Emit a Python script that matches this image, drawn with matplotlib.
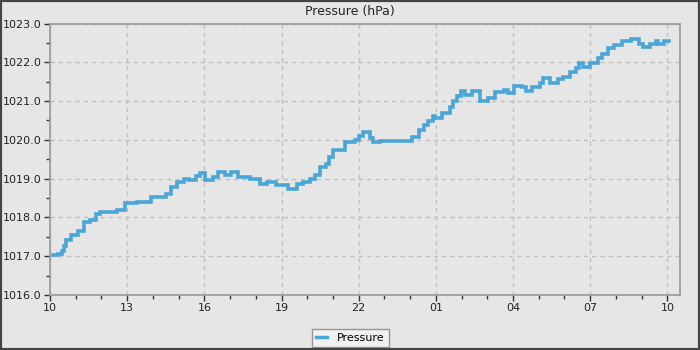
import matplotlib
matplotlib.use("Agg")
import matplotlib.pyplot as plt
from matplotlib.patches import Rectangle
from matplotlib.ticker import MultipleLocator, FixedLocator

# elapsed days since the first tick
days = [0.11, 0.33, 0.45, 0.54, 0.64, 0.80, 1.07, 1.34, 1.57, 1.77, 1.96, 2.23, 2.62, 2.93,
        3.40, 3.91, 4.49, 4.72, 4.92, 5.19, 5.42, 5.69, 5.85, 6.04, 6.32, 6.55, 6.82, 7.02,
        7.29, 7.79, 8.18, 8.45, 8.80, 9.27, 9.62, 9.85, 10.09, 10.32, 10.51, 10.71, 10.86,
        11.02, 11.48, 11.87, 12.03, 12.18, 12.42, 12.57, 12.84, 13.31, 13.66, 14.09, 14.36,
        14.52, 14.71, 14.87, 14.98, 15.25, 15.56, 15.68, 15.84, 15.96, 16.15, 16.42, 16.73,
        16.92, 17.04, 17.31, 17.66, 17.82, 18.05, 18.36, 18.52, 18.75, 19.06, 19.18, 19.45,
        19.73, 19.96, 20.23, 20.43, 20.58, 20.73, 21.01, 21.32, 21.47, 21.71, 21.94, 22.25,
        22.60, 22.91, 23.06, 23.34, 23.54, 23.65, 23.88, 24.08]
pressure = [1017.03, 1017.05, 1017.14, 1017.26, 1017.41, 1017.54, 1017.65, 1017.88, 1017.94,
            1018.10, 1018.14, 1018.14, 1018.20, 1018.36, 1018.40, 1018.53, 1018.61, 1018.79,
            1018.91, 1019.00, 1018.96, 1019.06, 1019.15, 1018.96, 1019.04, 1019.18, 1019.10,
            1019.18, 1019.04, 1018.98, 1018.87, 1018.91, 1018.84, 1018.74, 1018.87, 1018.91,
            1019.00, 1019.09, 1019.31, 1019.39, 1019.57, 1019.75, 1019.94, 1020.00, 1020.10,
            1020.21, 1020.05, 1019.94, 1019.98, 1019.98, 1019.98, 1020.07, 1020.26, 1020.39,
            1020.48, 1020.61, 1020.56, 1020.69, 1020.86, 1020.99, 1021.12, 1021.25, 1021.16,
            1021.25, 1020.99, 1021.00, 1021.08, 1021.23, 1021.29, 1021.20, 1021.38, 1021.35,
            1021.27, 1021.36, 1021.46, 1021.59, 1021.46, 1021.56, 1021.63, 1021.76, 1021.85,
            1021.97, 1021.87, 1021.97, 1022.10, 1022.21, 1022.36, 1022.45, 1022.56, 1022.59,
            1022.47, 1022.40, 1022.47, 1022.56, 1022.47, 1022.56, 1022.56]
tick_days = [0, 3, 6, 9, 12, 15, 18, 21, 24]
tick_labels = ["10", "13", "16", "19", "22", "01", "04", "07", "10"]
series_name = "Pressure"
title = "Pressure (hPa)"

bg = "#e6e6e6"
fig = plt.figure(figsize=(7, 3.5), dpi=100, facecolor=bg)
ax = fig.add_axes([50/700, 55/350, 630/700, 271.5/350])
ax.set_facecolor(bg)

line, = ax.plot(days, pressure, color="#4aa6d8", lw=2.6, drawstyle="steps-post",
                solid_joinstyle="miter", label=series_name)

ax.set_xlim(0, 24.49)
ax.set_ylim(1016, 1023)
ax.xaxis.set_major_locator(FixedLocator(tick_days))
ax.set_xticklabels(tick_labels)
ax.xaxis.set_minor_locator(MultipleLocator(1))
ax.yaxis.set_major_locator(MultipleLocator(1))
ax.yaxis.set_minor_locator(MultipleLocator(0.5))
ax.yaxis.set_major_formatter(matplotlib.ticker.FormatStrFormatter("%.1f"))

ax.tick_params(which="both", direction="out", length=4, width=1, color="#333333",
               labelsize=8, labelcolor="#222222", pad=2)
ax.tick_params(which="minor", length=3)
for s in ax.spines.values():
    s.set_color("#999999")
    s.set_linewidth(1.2)

ax.grid(True, which="major", color="#c0c0c0", linestyle=(0, (3, 3)), linewidth=1)
ax.set_axisbelow(True)

fig.text(0.5, 1 - 11/350, title, ha="center", va="center", fontsize=9, color="#222222")

leg = fig.legend(handles=[line], loc="center", bbox_to_anchor=(350.5/700, 1 - 338/350),
                 fontsize=8, frameon=True, fancybox=False, handlelength=1.0,
                 handletextpad=0.9, borderpad=0.35, borderaxespad=0)
leg.get_frame().set_edgecolor("#808080")
leg.get_frame().set_facecolor("#f4f4f4")
leg.get_frame().set_linewidth(1)
leg.get_lines()[0].set_linewidth(2.5)

fig.patches.append(Rectangle((0, 0), 1, 1, transform=fig.transFigure, fill=False,
                             edgecolor="#444444", linewidth=3, zorder=10))

fig.savefig("out.png", dpi=100, facecolor=bg)
